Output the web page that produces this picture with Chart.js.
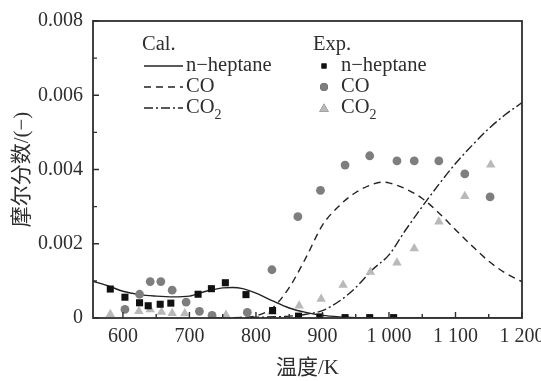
<!DOCTYPE html>
<html><head><meta charset="utf-8">
<script src="https://cdn.jsdelivr.net/npm/chart.js@4/dist/chart.umd.min.js"></script>
<style>html,body{margin:0;padding:0;background:#fff;}canvas{display:block;}</style>
</head><body>
<canvas id="c" width="541" height="381"></canvas>
<script>
// ---- tick labels / axes ----
const xTicks = [600, 700, 800, 900, 1000, 1100, 1200];
const xMinorTicks = [650, 750, 850, 950, 1050, 1150];
const yTicks = [0, 0.002, 0.004, 0.006, 0.008];
const yMinorTicks = [0.001, 0.003, 0.005, 0.007];
const xTitle = '温度/K';
const yTitle = '摩尔分数/(−)';

// ---- calculated curves ----
const calHeptaneT = [555,580,600,625,650,675,700,725,750,765,780,800,825,850,875,900,925,950,975,1000,1050,1100,1150,1200];
const calHeptaneY = [0.00099,0.00085,0.00072,0.00063,0.00059,0.00057,0.00059,0.00072,0.00081,0.00082,0.00079,0.00067,0.00046,0.00027,0.00015,0.00007,0.00003,0.00001,0,0,0,0,0,0];
const calCOT = [750,775,800,825,850,875,900,925,950,975,990,1000,1025,1050,1075,1100,1125,1150,1175,1200];
const calCOY = [0,0.00001,0.00006,0.00027,0.00082,0.00162,0.0025,0.00302,0.00338,0.0036,0.00366,0.00364,0.00348,0.00322,0.00283,0.00238,0.00194,0.00153,0.00121,0.00098];
const calCO2T = [740,800,850,875,900,925,950,975,1000,1025,1050,1075,1100,1125,1150,1175,1200];
const calCO2Y = [0,0.00002,0.00005,0.0001,0.0002,0.00045,0.00082,0.0013,0.0017,0.00237,0.003,0.0036,0.00416,0.00465,0.0051,0.00548,0.0058];

// ---- experimental points ----
const expHeptaneT = [581,603,625,638,656,672,713,733,754,785,825,864,896,934,971,1007];
const expHeptaneY = [0.00078,0.00056,0.00041,0.00033,0.00037,0.0004,0.00064,0.00079,0.00095,0.00063,0.0002,0.00005,0.00003,0.00001,0.00001,0.00001];
const expCOT = [603,625,641,657,674,695,715,734,787,824,863,897,934,971,1012,1038,1075,1114,1152];
const expCOY = [0.00023,0.00064,0.00098,0.00098,0.00075,0.00043,0.00018,0.00007,0.00015,0.0013,0.00273,0.00344,0.00412,0.00437,0.00423,0.00423,0.00423,0.00388,0.00326];
const expCO2T = [581,624,641,658,674,693,755,824,865,898,931,972,1012,1038,1075,1114,1153];
const expCO2Y = [0.0001,0.00018,0.00023,0.00016,0.00013,0.00012,0.00008,0.00017,0.00033,0.00051,0.00089,0.00124,0.00149,0.00187,0.00259,0.00328,0.00413];

const pts = (xs, ys) => xs.map((x, i) => ({x, y: ys[i]}));
const FONT = "'Liberation Serif', 'Times New Roman', serif";
const CJK = "'Liberation Serif', 'Noto Sans CJK SC', serif";
const INK = '#2e2e2e';

const lineDs = (label, xs, ys, dash) => ({
  type: 'line', label, data: pts(xs, ys), borderColor: '#222', borderWidth: 1.4,
  borderDash: dash, pointRadius: 0, cubicInterpolationMode: 'monotone', fill: false,
  showLine: true, group: 'cal'
});
const ptDs = (label, xs, ys, style, color, r) => ({
  type: 'scatter', label, data: pts(xs, ys), pointStyle: style, pointRadius: r,
  backgroundColor: color, borderColor: color, borderWidth: 0, showLine: false,
  clip: 0, group: 'exp'
});

const datasets = [
  ptDs('n−heptane', expHeptaneT, expHeptaneY, 'rect', '#111', 5),
  ptDs('CO', expCOT, expCOY, 'circle', '#7e7e7e', 4.4),
  ptDs('CO2', expCO2T, expCO2Y, 'triangle', '#b9b9b9', 5.5),
  lineDs('n−heptane', calHeptaneT, calHeptaneY, []),
  lineDs('CO', calCOT, calCOY, [7, 5]),
  lineDs('CO2', calCO2T, calCO2Y, [9, 3, 2, 3]),
];

function drawLabel(ctx, text, x, y) {
  if (text === 'CO2') {
    ctx.fillText('CO', x, y);
    const w = ctx.measureText('CO').width;
    const f = ctx.font;
    ctx.font = '14px ' + FONT;
    ctx.fillText('2', x + w, y + 7);
    ctx.font = f;
  } else ctx.fillText(text, x, y);
}

const framePlugin = {
  id: 'frame',
  afterDraw(chart) {
    const {ctx, chartArea: a, scales: {x, y}} = chart;
    ctx.save();
    ctx.strokeStyle = INK; ctx.lineWidth = 1.8;
    ctx.strokeRect(a.left, a.top, a.right - a.left, a.bottom - a.top);
    ctx.lineWidth = 1.4;
    ctx.beginPath();
    xTicks.forEach(v => { const p = x.getPixelForValue(v); ctx.moveTo(p, a.bottom); ctx.lineTo(p, a.bottom - 6); });
    xMinorTicks.forEach(v => { const p = x.getPixelForValue(v); ctx.moveTo(p, a.bottom); ctx.lineTo(p, a.bottom - 4); });
    yTicks.forEach(v => { const p = y.getPixelForValue(v); ctx.moveTo(a.left, p); ctx.lineTo(a.left + 6, p); });
    yMinorTicks.forEach(v => { const p = y.getPixelForValue(v); ctx.moveTo(a.left, p); ctx.lineTo(a.left + 4, p); });
    ctx.stroke();

    // legend
    ctx.fillStyle = INK;
    ctx.font = '20.5px ' + FONT;
    ctx.textBaseline = 'middle';
    ctx.textAlign = 'left';
    const top = 45, row = 21;
    ctx.fillText('Cal.', 142, top);
    ctx.fillText('Exp.', 313, top);
    const cal = datasets.filter(d => d.group === 'cal');
    const exp = datasets.filter(d => d.group === 'exp');
    cal.forEach((d, i) => {
      const yy = top + row * (i + 1);
      ctx.save();
      ctx.strokeStyle = d.borderColor; ctx.lineWidth = d.borderWidth;
      ctx.setLineDash(d.borderDash);
      ctx.beginPath(); ctx.moveTo(144, yy); ctx.lineTo(183, yy); ctx.stroke();
      ctx.restore();
      drawLabel(ctx, d.label, 186, yy);
    });
    exp.forEach((d, i) => {
      const yy = top + row * (i + 1);
      const r = d.pointStyle === 'rect' ? 3.6 : d.pointStyle === 'circle' ? 3.9 : 5.5;
      Chart.helpers.drawPoint(ctx, {pointStyle: d.pointStyle, radius: r, rotation: 0, borderWidth: 0}, 324, yy + (d.pointStyle === 'triangle' ? 1 : 0));
      ctx.fillStyle = d.backgroundColor;
      ctx.fill();
      ctx.fillStyle = INK;
      drawLabel(ctx, d.label, 341, yy);
    });
    ctx.restore();
  }
};

new Chart(document.getElementById('c'), {
  type: 'scatter',
  data: { datasets },
  options: {
    responsive: false, animation: false,
    devicePixelRatio: 1,
    layout: { padding: { left: 0, right: 19, top: 21, bottom: 0 } },
    plugins: { legend: { display: false }, tooltip: { enabled: false } },
    scales: {
      x: {
        type: 'linear', min: 555, max: 1200,
        grid: { display: false, drawTicks: false }, border: { display: false },
        afterBuildTicks: s => { s.ticks = xTicks.map(v => ({value: v})); },
        afterFit: s => { s.height = 63; s.paddingLeft = 0; s.paddingRight = 0; },
        ticks: {
          color: INK, font: { family: FONT, size: 20 }, padding: 7, maxRotation: 0, autoSkip: false,
          callback: v => String(v).replace(/\B(?=(\d{3})+(?!\d))/g, ' ')
        },
        title: { display: true, text: xTitle, color: INK, font: { family: CJK, size: 21 }, padding: { top: 0, bottom: 0 } }
      },
      y: {
        type: 'linear', min: 0, max: 0.008,
        grid: { display: false, drawTicks: false }, border: { display: false },
        afterBuildTicks: s => { s.ticks = yTicks.map(v => ({value: v})); },
        afterFit: s => { s.width = 93; s.paddingTop = 0; s.paddingBottom = 0; },
        ticks: {
          color: INK, font: { family: FONT, size: 20 }, padding: 10,
          callback: v => v === 0 ? '0' : v.toFixed(3)
        },
        title: { display: true, text: yTitle, color: INK, font: { family: CJK, size: 21 }, padding: { top: 9.5, bottom: 0 } }
      }
    }
  },
  plugins: [framePlugin]
});
</script>
</body></html>
